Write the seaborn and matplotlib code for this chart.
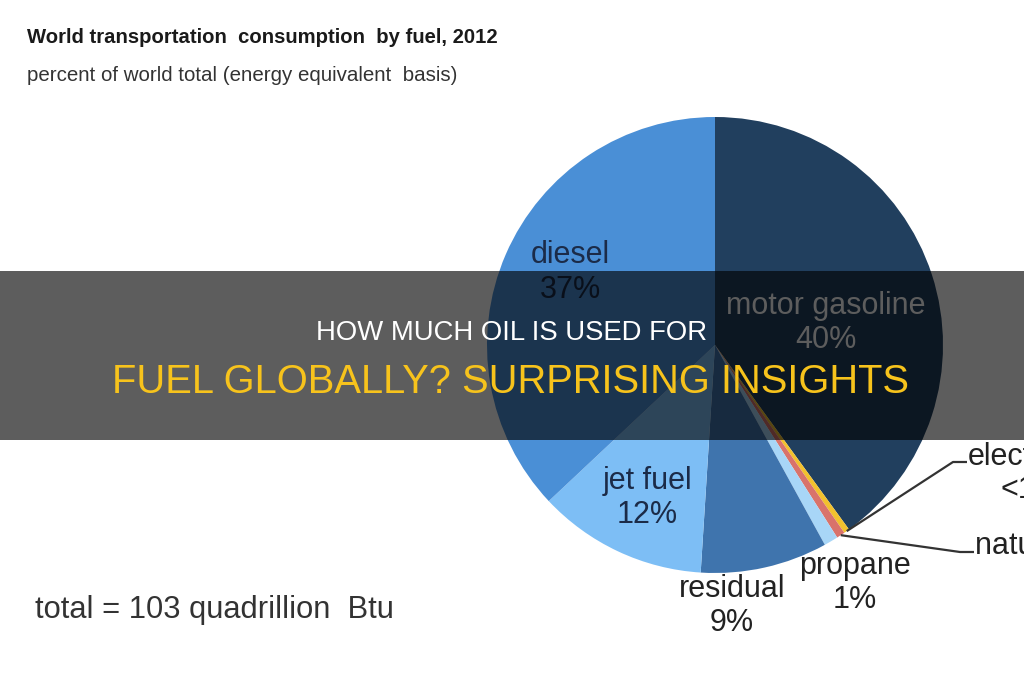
import matplotlib
matplotlib.use("Agg")
import matplotlib.pyplot as plt
import seaborn as sns
import numpy as np
from matplotlib.patches import Rectangle

# ---- data ----
fuels = ["motor gasoline", "electricity", "natural gas", "propane", "residual", "jet fuel", "diesel"]
shares = [40.0, 0.4, 0.6, 1.0, 9.0, 12.0, 37.0]
share_labels = ["40%", "<1%", "<1%", "1%", "9%", "12%", "37%"]
colors = ["#213f5e", "#f2c12e", "#d9736b", "#a8d6f7", "#3f74ad", "#7dbef5", "#4a8fd6"]

title = "World transportation  consumption  by fuel, 2012"
subtitle = "percent of world total (energy equivalent  basis)"
footnote = "total = 103 quadrillion  Btu"
banner_line1 = "HOW MUCH OIL IS USED FOR"
banner_line2 = "FUEL GLOBALLY? SURPRISING INSIGHTS"

sns.set_theme(style="white")
plt.rcParams["font.family"] = ["Liberation Sans", "DejaVu Sans"]

W, H = 1024, 680
fig = plt.figure(figsize=(W / 100, H / 100), dpi=100)
fig.patch.set_facecolor("white")

cx, cy, R = 715, 345, 228
ax = fig.add_axes([(cx - R) / W, (H - cy - R) / H, 2 * R / W, 2 * R / H])
wedges, _ = ax.pie(shares, colors=colors, startangle=90, counterclock=False,
                   radius=1, wedgeprops=dict(linewidth=0))
ax.set_xlim(-1, 1)
ax.set_ylim(-1, 1)
ax.set_aspect("equal")
ax.axis("off")

def d(px, py):
    return (px - cx) / R, (cy - py) / R

lab_fs = 22
def lab(name, pct, px, py1, py2, color, px2=None, ha1="center"):
    x, y = d(px, py1)
    ax.text(x, y, name, ha=ha1, va="center", fontsize=lab_fs, color=color, zorder=3, clip_on=False)
    x, y = d(px if px2 is None else px2, py2)
    ax.text(x, y, pct, ha="center", va="center", fontsize=lab_fs, color=color, zorder=3, clip_on=False)

lab(fuels[6], share_labels[6], 570, 255, 290, "#1b2b48")
lab(fuels[0], share_labels[0], 826, 306, 340, "#ffffff")
lab(fuels[5], share_labels[5], 647, 481, 515, "#1b2b48")
lab(fuels[4], share_labels[4], 732, 589, 623, "#222222")
lab(fuels[3], share_labels[3], 855, 566, 600, "#222222")
lab(fuels[1], share_labels[1], 1031, 457, 490, "#222222")
lab(fuels[2], share_labels[2], 975, 546, 580, "#222222", px2=1056, ha1="left")

# leader lines from the thin wedges
cum = np.cumsum([0] + shares)
tot = cum[-1]
for i, kx, ky, kl in [(1, 953, 462, 14), (2, 960, 552, 14)]:
    mid = 90 - 360 * (cum[i] + shares[i] / 2) / tot
    ex, ey = np.cos(np.radians(mid)), np.sin(np.radians(mid))
    k1 = d(kx, ky)
    k2 = d(kx + kl, ky)
    ax.plot([ex, k1[0], k2[0]], [ey, k1[1], k2[1]], color="#333333", lw=1.6,
            clip_on=False, zorder=3, solid_capstyle="butt")

# title texts
fig.text(27 / W, 1 - 43 / H, title, fontsize=14.6, fontweight="bold", color="#1a1a1a",
         ha="left", va="baseline")
fig.text(27 / W, 1 - 81 / H, subtitle, fontsize=14.8, color="#333333",
         ha="left", va="baseline")
fig.text(35 / W, 1 - 618 / H, footnote, fontsize=22.2, color="#333333",
         ha="left", va="baseline")

# banner overlay
ax.add_patch(Rectangle((0, 1 - 440 / H), 1, (440 - 271) / H, transform=fig.transFigure,
                       facecolor="black", alpha=0.635, edgecolor="none",
                       clip_on=False, zorder=5))
ax.text(512 / W, 1 - 333 / H, banner_line1, transform=fig.transFigure, ha="center",
        va="center", fontsize=19.8, color="white", zorder=6)
ax.text(511 / W, 1 - 382 / H, banner_line2, transform=fig.transFigure, ha="center",
        va="center", fontsize=28.7, color="#f7c31c", zorder=6)

fig.savefig("out.png", dpi=100)
